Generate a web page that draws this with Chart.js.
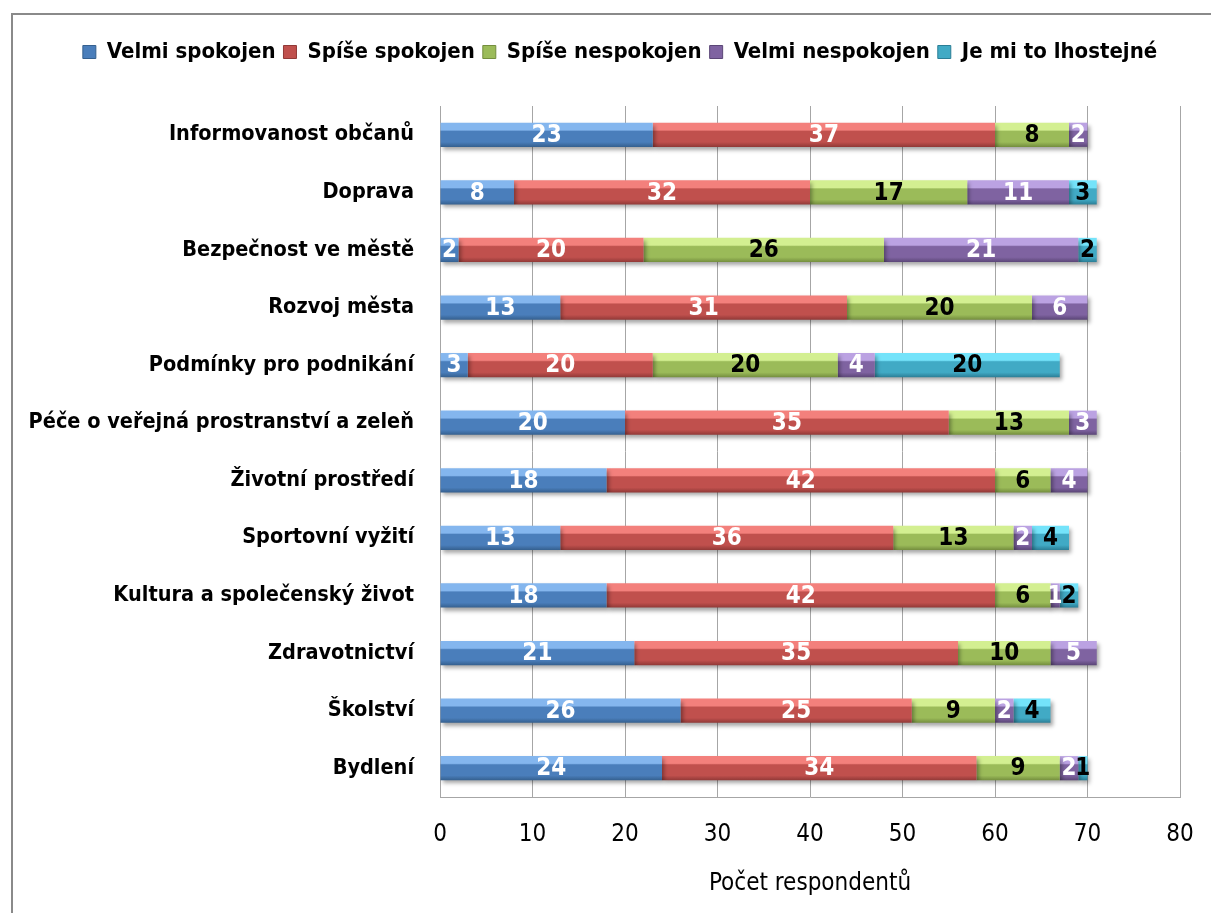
<!DOCTYPE html>
<html lang="cs">
<head>
<meta charset="utf-8">
<title>Spokojenost občanů</title>
<script src="https://cdn.jsdelivr.net/npm/chart.js@4.4.1/dist/chart.umd.min.js"></script>
<style>
    html, body { margin: 0; padding: 0; background: #fff; }
    .chart-wrap { width: 1211px; height: 913px; position: relative; }
</style>
</head>
<body>
<div class="chart-wrap"><canvas id="myChart"></canvas></div>
<script>
const categories = [
    'Informovanost občanů',
    'Doprava',
    'Bezpečnost ve městě',
    'Rozvoj města',
    'Podmínky pro podnikání',
    'Péče o veřejná prostranství a zeleň',
    'Životní prostředí',
    'Sportovní vyžití',
    'Kultura a společenský život',
    'Zdravotnictví',
    'Školství',
    'Bydlení'
];
const velmiSpokojen   = [23,  8,  2, 13,  3, 20, 18, 13, 18, 21, 26, 24];
const spiseSpokojen   = [37, 32, 20, 31, 20, 35, 42, 36, 42, 35, 25, 34];
const spiseNespokojen = [ 8, 17, 26, 20, 20, 13,  6, 13,  6, 10,  9,  9];
const velmiNespokojen = [ 2, 11, 21,  6,  4,  3,  4,  2,  1,  5,  2,  2];
const lhostejne       = [ 0,  3,  2,  0, 20,  0,  0,  4,  2,  0,  4,  1];
const seriesNames = ['Velmi spokojen', 'Spíše spokojen', 'Spíše nespokojen', 'Velmi nespokojen', 'Je mi to lhostejné'];
const xMin = 0, xMax = 80, xStep = 10;
const axisTitle = 'Počet respondentů';

const FONT = '"DejaVu Sans Condensed", "Liberation Sans Narrow", "DejaVu Sans", sans-serif';
// light / base / dark for the bevel look
const palette = [
    ['#84b6ee', '#4a7ebb', '#35608f'],
    ['#f3807c', '#c0504d', '#913937'],
    ['#d3ef91', '#9bbb59', '#748e3e'],
    ['#bba2e2', '#7f63a1', '#5b4677'],
    ['#74e3fa', '#41aac5', '#2b7e96']
];
const labelColors = ['#fff', '#fff', '#000', '#fff', '#000'];

const bevel = (i) => (ctx) => {
    const chart = ctx.chart;
    const y = chart.scales && chart.scales.y;
    if (!chart.chartArea || !y || ctx.dataIndex === undefined) return palette[i][1];
    const yc = y.getPixelForValue(ctx.dataIndex);
    const band = y.getPixelForValue(1) - y.getPixelForValue(0);
    const h = band * 0.42 / 2;
    const g = chart.ctx.createLinearGradient(0, yc - h, 0, yc + h);
    g.addColorStop(0, palette[i][0]);
    g.addColorStop(0.3, palette[i][0]);
    g.addColorStop(0.36, palette[i][1]);
    g.addColorStop(0.8, palette[i][1]);
    g.addColorStop(1, palette[i][2]);
    return g;
}

const frame = {
    id: 'frame',
    beforeDraw(chart) {
        const c = chart.ctx;
        c.save();
        c.strokeStyle = '#8a8a8a';
        c.lineWidth = 2;
        c.strokeRect(12, 14, 1300, 1000);
        c.restore();
    }
}

// fixed legend height + nudge it right like in the original
const legendSize = {
    id: 'legendSize',
    beforeInit(chart) {
        const fit = chart.legend.fit;
        chart.legend.fit = function () {
            fit.bind(chart.legend)();
            this.height = 73;
        }
    },
    afterLayout(chart) {
        chart.legend.left += 30;
        chart.legend.right += 30;
    }
}

const barShadow = {
    id: 'barShadow',
    beforeDatasetsDraw(chart) {
        const c = chart.ctx;
        c.save();
        c.shadowColor = 'rgba(0,0,0,0.35)';
        c.shadowBlur = 4;
        c.shadowOffsetX = 2;
        c.shadowOffsetY = 3;
    },
    afterDatasetsDraw(chart) {
        chart.ctx.restore();
    }
}

const valueLabels = {
    id: 'valueLabels',
    afterDatasetsDraw(chart) {
        const c = chart.ctx;
        c.save();
        c.font = 'bold 24px ' + FONT;
        c.textAlign = 'center';
        c.textBaseline = 'middle';
        chart.data.datasets.forEach((ds, i) => {
            const meta = chart.getDatasetMeta(i);
            meta.data.forEach((bar, j) => {
                const v = ds.data[j];
                if (!v) return;
                c.fillStyle = labelColors[i];
                c.fillText(String(v), (bar.x + bar.base) / 2, bar.y + 1);
            });
        });
        c.restore();
    }
}

const seriesData = [velmiSpokojen, spiseSpokojen, spiseNespokojen, velmiNespokojen, lhostejne];

new Chart('myChart', {
    type: 'bar',
    data: {
        labels: categories,
        datasets: seriesNames.map((name, i) => ({
            label: name,
            data: seriesData[i],
            backgroundColor: bevel(i),
            borderWidth: 0,
            categoryPercentage: 1,
            barPercentage: 0.42
        }))
    },
    options: {
        indexAxis: 'y',
        responsive: true,
        maintainAspectRatio: false,
        animation: false,
        layout: {
            padding: { top: 33, right: 31, left: 0, bottom: 0 }
        },
        plugins: {
            tooltip: { enabled: false },
            legend: {
                position: 'top',
                labels: {
                    boxWidth: 13,
                    boxHeight: 13,
                    padding: 8,
                    color: '#000',
                    font: { family: FONT, size: 22, weight: 'bold' },
                    generateLabels: (chart) => chart.data.datasets.map((ds, i) => ({
                        text: ds.label,
                        fillStyle: palette[i][1],
                        strokeStyle: palette[i][2],
                        lineWidth: 1,
                        datasetIndex: i,
                        hidden: false
                    }))
                }
            }
        },
        scales: {
            x: {
                stacked: true,
                min: xMin,
                max: xMax,
                ticks: {
                    stepSize: xStep,
                    color: '#000',
                    padding: 0,
                    font: { family: FONT, size: 24 }
                },
                // invisible tick marks just push the labels down
                grid: { color: '#a6a6a6', drawTicks: true, tickLength: 23, tickColor: 'rgba(0,0,0,0)' },
                border: { color: '#a6a6a6' },
                title: {
                    display: true,
                    text: axisTitle,
                    color: '#000',
                    font: { family: FONT, size: 24 },
                    padding: { top: 0, bottom: 15 }
                },
                afterFit(scale) { scale.height = 116; }
            },
            y: {
                stacked: true,
                ticks: {
                    color: '#000',
                    padding: 26,
                    font: { family: FONT, size: 21.5, weight: 'bold' }
                },
                grid: { display: false, drawTicks: false },
                border: { color: '#a6a6a6' },
                afterFit(scale) { scale.width = 440; }
            }
        }
    },
    plugins: [frame, legendSize, barShadow, valueLabels]
});
</script>
</body>
</html>
